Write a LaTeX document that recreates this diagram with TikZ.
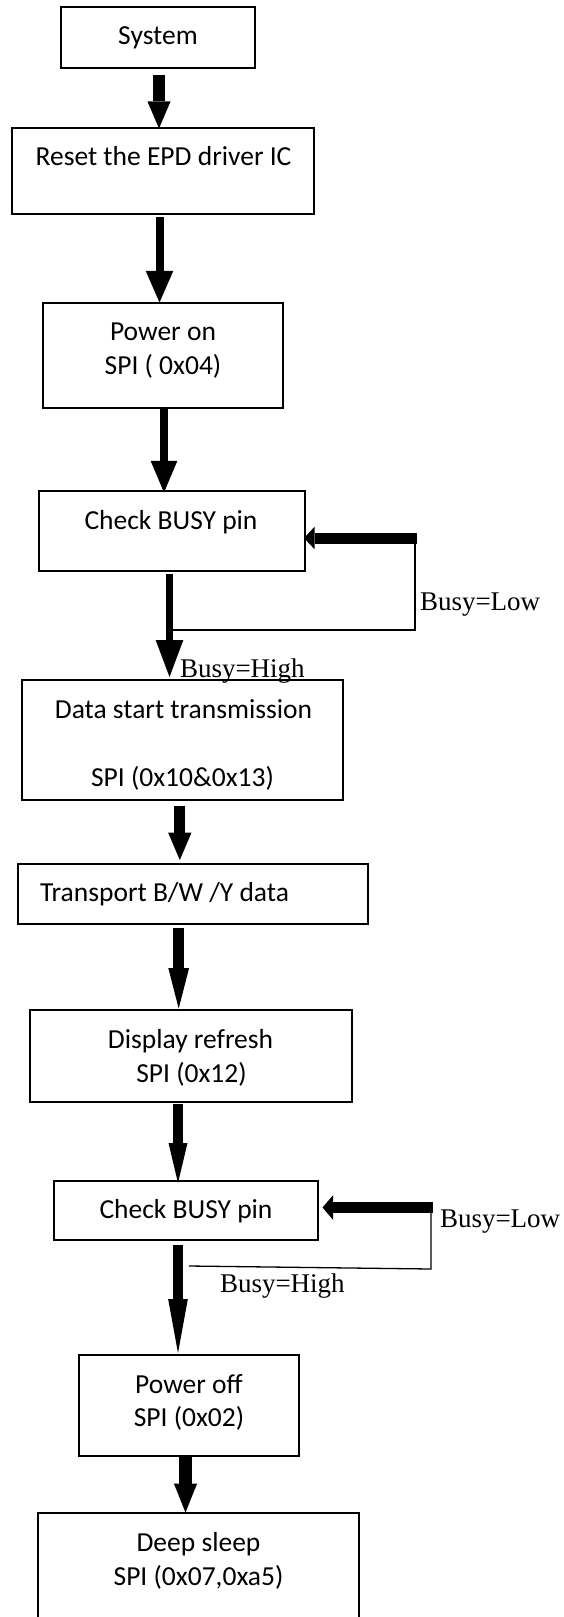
\documentclass[tikz,border=0pt]{standalone}
\usepackage{fontspec}
\setmainfont{Carlito}
\newfontfamily\boxfont{Carlito}
\newfontfamily\serfont{Liberation Serif}
\usetikzlibrary{arrows.meta}
\tikzset{
  box/.style={draw, line width=2bp, inner sep=0pt, outer sep=0pt},
  txt/.style={inner sep=0pt, outer sep=0pt, anchor=base, font=\boxfont\fontsize{27.5bp}{33.5bp}\selectfont},
  lbl/.style={inner sep=0pt, outer sep=0pt, anchor=base west, font=\serfont\fontsize{27bp}{32bp}\selectfont},
  blk/.style n args={3}{line width=#1, -{Triangle[length=#3,width=#2,line width=0pt]}},
  thinline/.style={line width=1.3bp}
}
\begin{document}
\begin{tikzpicture}[x=1bp,y=-1bp]
\useasboundingbox (0,0) rectangle (564,1617);
\clip (0,0) rectangle (564,1617);
% boxes
\node[box, minimum width=194bp, minimum height=60bp] (sys) at (158,37.5) {};
\node[box, minimum width=302bp, minimum height=86bp] (reset) at (163,170.5) {};
\node[box, minimum width=240bp, minimum height=105bp] (pon) at (163,355) {};
\node[box, minimum width=265.5bp, minimum height=80.5bp] (chk1) at (172.25,530.75) {};
\node[box, minimum width=320.5bp, minimum height=120bp] (data) at (182.75,739.5) {};
\node[box, minimum width=350bp, minimum height=60bp] (trans) at (193,894) {};
\node[box, minimum width=321bp, minimum height=92bp] (disp) at (191,1055.5) {};
\node[box, minimum width=264bp, minimum height=59bp] (chk2) at (186,1210.5) {};
\node[box, minimum width=220bp, minimum height=101bp] (poff) at (189,1405.5) {};
\node[box, minimum width=321bp, minimum height=137.5bp] (deep) at (198.5,1581.25) {};
% texts
\node[txt] (t1) at (158,45) {System};
\node[txt] (t2) at (163.5,165) {Reset the EPD driver IC};
\node[txt] (t3) at (163,340) {Power on};
\node[txt] (t3b) at (163,374) {SPI ( 0x04)};
\node[txt] (t4) at (171,529) {Check BUSY pin};
\node[txt] (t5) at (183.5,718) {Data start transmission};
\node[txt] (t5b) at (182.5,786) {SPI (0x10\&0x13)};
\node[txt, anchor=base west] (t6) at (40,901) {Transport B/W /Y data};
\node[txt] (t7) at (190.5,1048) {Display refresh};
\node[txt] (t7b) at (191.5,1082) {SPI (0x12)};
\node[txt] (t8) at (186,1218) {Check BUSY pin};
\node[txt] (t9) at (189,1393) {Power off};
\node[txt] (t9b) at (189,1426) {SPI (0x02)};
\node[txt] (t10) at (198.5,1551) {Deep sleep};
\node[txt] (t10b) at (198.5,1585) {SPI (0x07,0xa5)};
% labels
\node[lbl] (low1) at (420,610) {Busy=Low};
\node[lbl] (high1) at (180,677) {Busy=High};
\node[lbl] (low2) at (440,1227) {Busy=Low};
\node[lbl] (high2) at (220,1292) {Busy=High};
% main arrows
\draw[blk={11.7bp}{23bp}{27bp}, shorten <=7.5bp, shorten >=-1bp] (159,0 |- sys.south) -- (159,0 |- reset.north);
\draw[blk={8bp}{27.7bp}{31.7bp}, shorten <=3bp] (159.5,0 |- reset.south) -- (159.5,0 |- pon.north);
\draw[blk={7.7bp}{26.7bp}{31.6bp}, shorten <=1.5bp, shorten >=-2bp] (164,0 |- pon.south) -- (164,0 |- chk1.north);
\draw[blk={7.7bp}{27.7bp}{37bp}, shorten <=3bp, shorten >=2.5bp] (169.5,0 |- chk1.south) -- (169.5,0 |- data.north);
\draw[blk={11bp}{23.3bp}{27.3bp}, shorten <=6bp, shorten >=4bp] (179.8,0 |- data.south) -- (179.8,0 |- trans.north);
\draw[blk={10.7bp}{20.7bp}{40.3bp}, shorten <=3.7bp, shorten >=1bp] (178.7,0 |- trans.south) -- (178.7,0 |- disp.north);
\draw[blk={9.3bp}{19bp}{40bp}, shorten <=2.5bp, shorten >=-2bp] (178,0 |- disp.south) -- (178,0 |- chk2.north);
\draw[blk={9.3bp}{19.7bp}{54bp}, shorten <=5bp, shorten >=2bp] (178,0 |- chk2.south) -- (178,0 |- poff.north);
\draw[blk={13bp}{23.3bp}{29bp}] (185.5,0 |- poff.south) -- (185.5,0 |- deep.north);
% loop 1
\coordinate (lp1) at (417,538);
\coordinate (lp1b) at (415,630);
\coordinate (lp1e) at (173.3,630);
\draw[blk={11bp}{22.7bp}{10.7bp}, shorten >=-1bp] (lp1) -- (chk1.east |- lp1);
\draw[thinline] (415,538) -- (lp1b) -- (lp1e);
% loop 2
\coordinate (lp2) at (433.3,1207.5);
\coordinate (lp2b) at (431,1269);
\coordinate (lp2e) at (189,1266);
\draw[blk={11.6bp}{25bp}{10.7bp}, shorten >=4.5bp] (lp2) -- (chk2.east |- lp2);
\draw[thinline] (431,1207.5) -- (lp2b) -- (lp2e);
\end{tikzpicture}
\end{document}
